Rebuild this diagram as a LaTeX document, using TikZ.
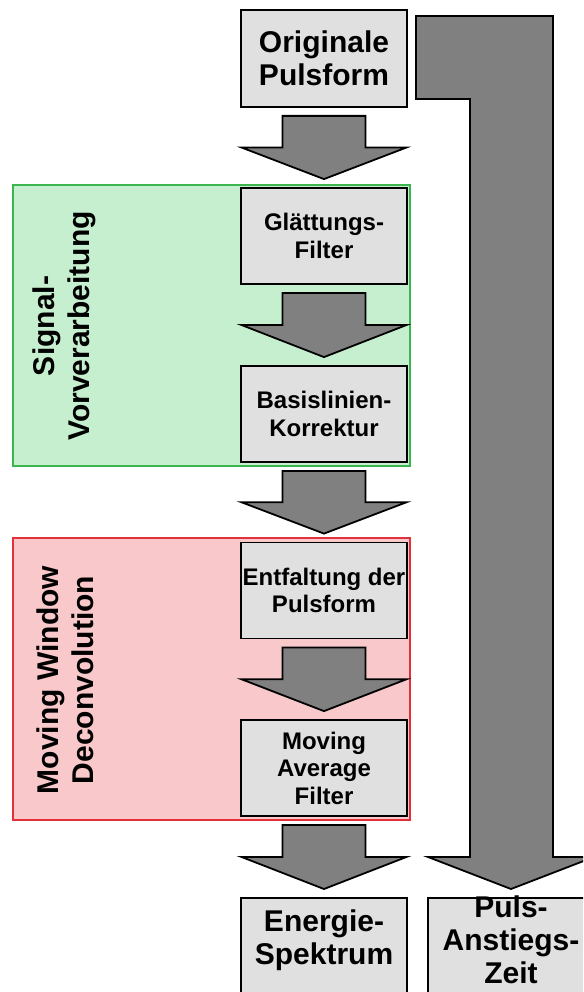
\documentclass[tikz,border=0pt]{standalone}
\usepackage{fontspec}
\setmainfont{Liberation Sans}
\usetikzlibrary{calc}

\definecolor{boxgray}{RGB}{224,224,224}
\definecolor{arrowgray}{RGB}{128,128,128}
\definecolor{grpgreenfill}{RGB}{198,239,208}
\definecolor{grpgreenline}{RGB}{60,180,80}
\definecolor{grpredfill}{RGB}{248,200,202}
\definecolor{grpredline}{RGB}{225,50,60}

% block arrow from the bottom of one stage to the top of the next
\newcommand\flowarrow[2]{%
  \path[blockarrow] let \p1=(#1.south), \p2=(#2.north) in
    (\x1-41.5pt,\y1-8pt) -- (\x1+41.5pt,\y1-8pt)
    -- (\x1+41.5pt,{(\y1+\y2)/2}) -- (\x1+82.5pt,{(\y1+\y2)/2})
    -- (\x1,\y2+8pt)
    -- (\x1-82.5pt,{(\y1+\y2)/2}) -- (\x1-41.5pt,{(\y1+\y2)/2})
    -- cycle;}

\begin{document}
\begin{tikzpicture}[x=1pt,y=-1pt,
  stage/.style={draw=black, line width=1.8pt, fill=boxgray,
    minimum width=166pt, minimum height=96pt, inner sep=0pt,
    align=center, font=\bfseries\fontsize{24}{27.5}\selectfont},
  bigstage/.style={stage, font=\bfseries\fontsize{30}{33}\selectfont},
  stageframe/.style={draw=black, line width=1.8pt, fill=boxgray,
    minimum width=166pt, inner sep=0pt},
  bigtext/.style={align=center, inner sep=0pt,
    font=\bfseries\fontsize{30}{33}\selectfont},
  blockarrow/.style={draw=black, line width=1.8pt, fill=arrowgray,
    line join=miter},
  grouplabel/.style={rotate=90, align=center, inner sep=0pt,
    font=\bfseries\fontsize{30}{35}\selectfont},
  greengroup/.style={draw=grpgreenline, fill=grpgreenfill, line width=1.8pt},
  redgroup/.style={draw=grpredline, fill=grpredfill, line width=1.8pt}]

\useasboundingbox (0,0) rectangle (583,992);
\clip (0,0) rectangle (583,992);

% processing groups
\path[greengroup] (13,185) rectangle (410,466);
\path[redgroup] (13,538) rectangle (410,820);
\node[grouplabel] (sigtxt) at (64,326) {Signal-\\Vorverarbeitung};
\node[grouplabel] (mwdtxt) at (65,680) {Moving Window\\Deconvolution};

% processing stages
\node[bigstage, minimum height=97pt] (orig) at (324,58.5) {Originale\\Pulsform};
\node[stage] (glatt) at (324,236) {Glättungs-\\Filter};
\node[stage] (basis) at (324,414) {Basislinien-\\Korrektur};
\node[stage] (entf) at (324,590.5) {Entfaltung der\\Pulsform};
\node[stage] (mavg) at (324,768) {Moving\\Average\\Filter};

% results
\node[stageframe, minimum height=120pt, anchor=north] (enframe) at (324,897) {};
\node[bigtext] (energie) at (324,940) {Energie-\\Spektrum};
\node[stageframe, minimum height=120pt, anchor=north] (pframe) at (511,897) {};
\node[bigtext] (puls) at (511,940) {Puls-\\Anstiegs-\\Zeit};

% flow arrows
\flowarrow{orig}{glatt}
\flowarrow{glatt}{basis}
\flowarrow{basis}{entf}
\flowarrow{entf}{mavg}
\flowarrow{mavg}{enframe}

% bypass from the original pulse shape to the rise time
\path[blockarrow] (416,16) -- (553,16) -- (553,857) -- (594,857)
  -- ([yshift=8pt]pframe.north) -- (428,857) -- (470,857)
  -- (470,99) -- (416,99) -- cycle;
\end{tikzpicture}
\end{document}
